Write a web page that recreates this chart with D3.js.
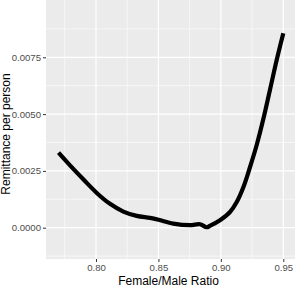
<!DOCTYPE html>
<html><head><meta charset="utf-8">
<script src="https://cdn.jsdelivr.net/npm/d3@7"></script>
<style>body{margin:0;background:#fff}svg{display:block}text{font-family:"Liberation Sans",Arial,sans-serif}</style>
</head><body><svg id="c" width="297" height="291"></svg>
<script>
const ratio = [0.7700,0.7792,0.7898,0.8006,0.8112,0.8219,0.8326,0.8432,0.8500,0.8619,0.8753,0.8833,0.8886,0.8915,0.8993,0.9073,0.9127,0.9180,0.9233,0.9287,0.9340,0.9393,0.9447,0.9500];
const remit = [0.00330,0.00274,0.00213,0.00153,0.00105,0.00071,0.00052,0.00043,0.00035,0.00018,0.00011,0.00015,0.00002,0.00009,0.00033,0.00069,0.00113,0.00178,0.00266,0.00364,0.00478,0.00606,0.00738,0.00856];
const xTicks = [0.80,0.85,0.90,0.95];
const xTickLabels = ["0.80","0.85","0.90","0.95"];
const xMinor = [0.775,0.825,0.875,0.925];
const yTicks = [0.0000,0.0025,0.0050,0.0075];
const yTickLabels = ["0.0000","0.0025","0.0050","0.0075"];
const yMinor = [-0.00125,0.00125,0.00375,0.00625,0.00875];

const svg = d3.select("#c");
const L=46,R=295,T=0,B=259;
const x = d3.scaleLinear().domain([0.75996,0.95937]).range([L,R]);
const y = d3.scaleLinear().domain([-0.001378,0.010022]).range([B,T]);

svg.append("rect").attr("x",L).attr("y",T).attr("width",R-L).attr("height",B-T).attr("fill","#EBEBEB");
const g = svg.append("g");
g.selectAll(".xm").data(xMinor).enter().append("line").attr("x1",d=>x(d)).attr("x2",d=>x(d)).attr("y1",T).attr("y2",B).attr("stroke","#fff").attr("stroke-width",0.6);
g.selectAll(".ym").data(yMinor).enter().append("line").attr("y1",d=>y(d)).attr("y2",d=>y(d)).attr("x1",L).attr("x2",R).attr("stroke","#fff").attr("stroke-width",0.6);
g.selectAll(".xM").data(xTicks).enter().append("line").attr("x1",d=>x(d)).attr("x2",d=>x(d)).attr("y1",T).attr("y2",B).attr("stroke","#fff").attr("stroke-width",1.2);
g.selectAll(".yM").data(yTicks).enter().append("line").attr("y1",d=>y(d)).attr("y2",d=>y(d)).attr("x1",L).attr("x2",R).attr("stroke","#fff").attr("stroke-width",1.2);

const line = d3.line().x((d,i)=>x(ratio[i])).y((d,i)=>y(remit[i])).curve(d3.curveCatmullRom.alpha(0.5));
svg.append("path").datum(remit).attr("d",line).attr("fill","none").attr("stroke","#000").attr("stroke-width",4.2).attr("stroke-linecap","butt").attr("stroke-linejoin","round");

// axes
const xAxis = svg.append("g").attr("transform",`translate(0,${B})`)
  .call(d3.axisBottom(x).tickValues(xTicks).tickFormat((d,i)=>xTickLabels[i]).tickSize(3).tickPadding(2));
const yAxis = svg.append("g").attr("transform",`translate(${L},0)`)
  .call(d3.axisLeft(y).tickValues(yTicks).tickFormat((d,i)=>yTickLabels[i]).tickSize(3).tickPadding(2));
[xAxis,yAxis].forEach(a=>{
  a.select(".domain").remove();
  a.selectAll(".tick line").attr("stroke","#333").attr("stroke-width",1);
  a.selectAll(".tick text").attr("fill","#4d4d4d").style("font-size","9.6px");
});

svg.append("text").attr("x",(L+R)/2-2).attr("y",285).attr("text-anchor","middle").style("font-size","12px").attr("fill","#000").text("Female/Male Ratio");
svg.append("text").attr("transform","translate(10,134) rotate(-90)").attr("text-anchor","middle").style("font-size","12px").attr("fill","#000").text("Remittance per person");
</script></body></html>
